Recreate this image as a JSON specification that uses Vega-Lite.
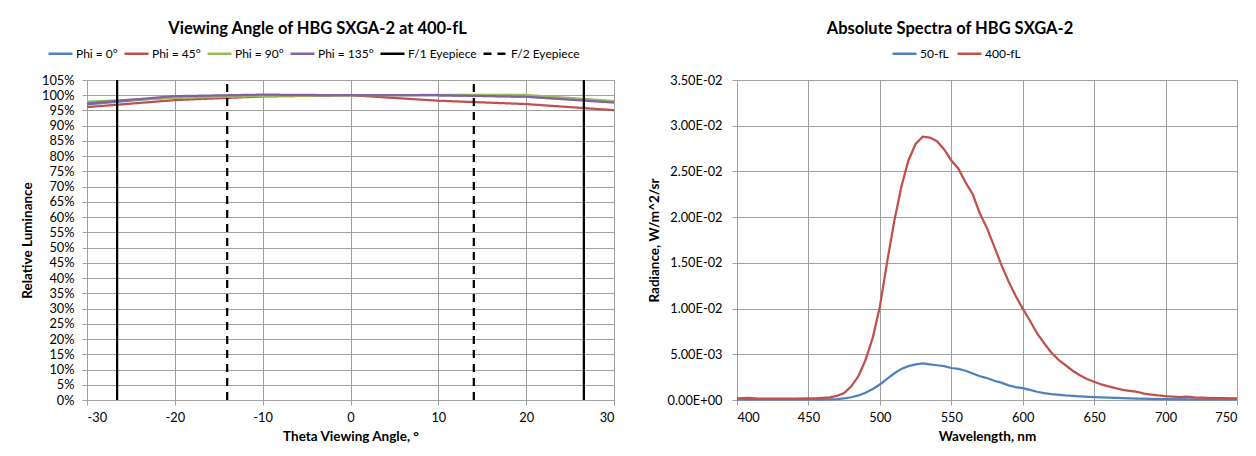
{
  "$schema": "https://vega.github.io/schema/vega-lite/v6.json",
  "background": "white",
  "padding": {"left": 20, "top": 20, "right": 5, "bottom": 5},
  "spacing": 28,
  "config": {
    "font": "Lato",
    "view": {"stroke": null},
    "axis": {
      "labelFont": "Lato", "labelFontSize": 12.8, "labelColor": "#000000",
      "titleFont": "Lato", "titleFontSize": 13.5, "titleFontWeight": "bold", "titleColor": "#000000",
      "gridColor": "#A0A0A0", "gridWidth": 1, "domainColor": "#A0A0A0", "tickColor": "#A0A0A0", "tickSize": 5
    },
    "legend": {"labelFont": "Lato", "labelFontSize": 12, "labelColor": "#000000"},
    "title": {"font": "Lato", "fontSize": 16.5, "fontWeight": "bold", "color": "#000000"}
  },
  "datasets": {
    "angle": [
      {"series": "Phi = 0°", "grp": "p0", "theta": -30, "lum": 0.970},
      {"series": "Phi = 0°", "grp": "p0", "theta": -20, "lum": 0.995},
      {"series": "Phi = 0°", "grp": "p0", "theta": -10, "lum": 1.000},
      {"series": "Phi = 0°", "grp": "p0", "theta": 0, "lum": 1.000},
      {"series": "Phi = 0°", "grp": "p0", "theta": 10, "lum": 1.000},
      {"series": "Phi = 0°", "grp": "p0", "theta": 20, "lum": 0.996},
      {"series": "Phi = 0°", "grp": "p0", "theta": 30, "lum": 0.978},
      {"series": "Phi = 45°", "grp": "p45", "theta": -30, "lum": 0.961},
      {"series": "Phi = 45°", "grp": "p45", "theta": -20, "lum": 0.984},
      {"series": "Phi = 45°", "grp": "p45", "theta": -10, "lum": 0.996},
      {"series": "Phi = 45°", "grp": "p45", "theta": 0, "lum": 1.000},
      {"series": "Phi = 45°", "grp": "p45", "theta": 10, "lum": 0.982},
      {"series": "Phi = 45°", "grp": "p45", "theta": 20, "lum": 0.971},
      {"series": "Phi = 45°", "grp": "p45", "theta": 30, "lum": 0.951},
      {"series": "Phi = 90°", "grp": "p90", "theta": -30, "lum": 0.979},
      {"series": "Phi = 90°", "grp": "p90", "theta": -20, "lum": 0.991},
      {"series": "Phi = 90°", "grp": "p90", "theta": -10, "lum": 0.998},
      {"series": "Phi = 90°", "grp": "p90", "theta": 0, "lum": 1.000},
      {"series": "Phi = 90°", "grp": "p90", "theta": 10, "lum": 1.001},
      {"series": "Phi = 90°", "grp": "p90", "theta": 20, "lum": 1.001},
      {"series": "Phi = 90°", "grp": "p90", "theta": 30, "lum": 0.981},
      {"series": "Phi = 135°", "grp": "p135", "theta": -30, "lum": 0.973},
      {"series": "Phi = 135°", "grp": "p135", "theta": -20, "lum": 0.997},
      {"series": "Phi = 135°", "grp": "p135", "theta": -10, "lum": 1.002},
      {"series": "Phi = 135°", "grp": "p135", "theta": 0, "lum": 1.000},
      {"series": "Phi = 135°", "grp": "p135", "theta": 10, "lum": 1.000},
      {"series": "Phi = 135°", "grp": "p135", "theta": 20, "lum": 0.995},
      {"series": "Phi = 135°", "grp": "p135", "theta": 30, "lum": 0.976},
      {"series": "F/1 Eyepiece", "grp": "f1a", "theta": -26.57, "lum": 0},
      {"series": "F/1 Eyepiece", "grp": "f1a", "theta": -26.57, "lum": 1.05},
      {"series": "F/1 Eyepiece", "grp": "f1b", "theta": 26.57, "lum": 0},
      {"series": "F/1 Eyepiece", "grp": "f1b", "theta": 26.57, "lum": 1.05},
      {"series": "F/2 Eyepiece", "grp": "f2a", "theta": -14.04, "lum": 0},
      {"series": "F/2 Eyepiece", "grp": "f2a", "theta": -14.04, "lum": 1.05},
      {"series": "F/2 Eyepiece", "grp": "f2b", "theta": 14.04, "lum": 0},
      {"series": "F/2 Eyepiece", "grp": "f2b", "theta": 14.04, "lum": 1.05}
    ],
    "spectra": [
      {"series": "50-fL", "nm": 400, "rad": 0.00007},
      {"series": "50-fL", "nm": 450, "rad": 0.00007},
      {"series": "50-fL", "nm": 460, "rad": 0.00008},
      {"series": "50-fL", "nm": 470, "rad": 0.0001},
      {"series": "50-fL", "nm": 475, "rad": 0.00018},
      {"series": "50-fL", "nm": 480, "rad": 0.0003},
      {"series": "50-fL", "nm": 485, "rad": 0.0005},
      {"series": "50-fL", "nm": 490, "rad": 0.0008},
      {"series": "50-fL", "nm": 495, "rad": 0.0012},
      {"series": "50-fL", "nm": 500, "rad": 0.0017},
      {"series": "50-fL", "nm": 505, "rad": 0.0023},
      {"series": "50-fL", "nm": 510, "rad": 0.0029},
      {"series": "50-fL", "nm": 515, "rad": 0.0034},
      {"series": "50-fL", "nm": 520, "rad": 0.0037},
      {"series": "50-fL", "nm": 525, "rad": 0.0039},
      {"series": "50-fL", "nm": 530, "rad": 0.0040},
      {"series": "50-fL", "nm": 535, "rad": 0.0039},
      {"series": "50-fL", "nm": 540, "rad": 0.0038},
      {"series": "50-fL", "nm": 545, "rad": 0.0037},
      {"series": "50-fL", "nm": 550, "rad": 0.0035},
      {"series": "50-fL", "nm": 555, "rad": 0.0034},
      {"series": "50-fL", "nm": 560, "rad": 0.0032},
      {"series": "50-fL", "nm": 565, "rad": 0.0029},
      {"series": "50-fL", "nm": 570, "rad": 0.0026},
      {"series": "50-fL", "nm": 575, "rad": 0.0024},
      {"series": "50-fL", "nm": 580, "rad": 0.0021},
      {"series": "50-fL", "nm": 585, "rad": 0.0019},
      {"series": "50-fL", "nm": 590, "rad": 0.0016},
      {"series": "50-fL", "nm": 595, "rad": 0.0014},
      {"series": "50-fL", "nm": 600, "rad": 0.0013},
      {"series": "50-fL", "nm": 605, "rad": 0.0011},
      {"series": "50-fL", "nm": 610, "rad": 0.0009},
      {"series": "50-fL", "nm": 615, "rad": 0.00075},
      {"series": "50-fL", "nm": 620, "rad": 0.00065},
      {"series": "50-fL", "nm": 630, "rad": 0.0005},
      {"series": "50-fL", "nm": 640, "rad": 0.0004},
      {"series": "50-fL", "nm": 650, "rad": 0.00032},
      {"series": "50-fL", "nm": 660, "rad": 0.00025},
      {"series": "50-fL", "nm": 670, "rad": 0.0002},
      {"series": "50-fL", "nm": 680, "rad": 0.00015},
      {"series": "50-fL", "nm": 690, "rad": 0.00012},
      {"series": "50-fL", "nm": 700, "rad": 0.0001},
      {"series": "50-fL", "nm": 720, "rad": 0.00008},
      {"series": "50-fL", "nm": 750, "rad": 0.00007},
      {"series": "400-fL", "nm": 400, "rad": 0.00018},
      {"series": "400-fL", "nm": 408, "rad": 0.00024},
      {"series": "400-fL", "nm": 415, "rad": 0.00016},
      {"series": "400-fL", "nm": 430, "rad": 0.00015},
      {"series": "400-fL", "nm": 440, "rad": 0.00015},
      {"series": "400-fL", "nm": 450, "rad": 0.00018},
      {"series": "400-fL", "nm": 455, "rad": 0.00017},
      {"series": "400-fL", "nm": 460, "rad": 0.00022},
      {"series": "400-fL", "nm": 465, "rad": 0.00028},
      {"series": "400-fL", "nm": 470, "rad": 0.00045},
      {"series": "400-fL", "nm": 475, "rad": 0.00075},
      {"series": "400-fL", "nm": 480, "rad": 0.0015},
      {"series": "400-fL", "nm": 485, "rad": 0.0026},
      {"series": "400-fL", "nm": 490, "rad": 0.0044},
      {"series": "400-fL", "nm": 495, "rad": 0.0068},
      {"series": "400-fL", "nm": 500, "rad": 0.0102},
      {"series": "400-fL", "nm": 505, "rad": 0.0150},
      {"series": "400-fL", "nm": 510, "rad": 0.0195},
      {"series": "400-fL", "nm": 515, "rad": 0.0233},
      {"series": "400-fL", "nm": 520, "rad": 0.0262},
      {"series": "400-fL", "nm": 525, "rad": 0.0280},
      {"series": "400-fL", "nm": 530, "rad": 0.0288},
      {"series": "400-fL", "nm": 535, "rad": 0.0287},
      {"series": "400-fL", "nm": 540, "rad": 0.0283},
      {"series": "400-fL", "nm": 545, "rad": 0.0274},
      {"series": "400-fL", "nm": 550, "rad": 0.0262},
      {"series": "400-fL", "nm": 555, "rad": 0.0253},
      {"series": "400-fL", "nm": 560, "rad": 0.0238},
      {"series": "400-fL", "nm": 565, "rad": 0.0225},
      {"series": "400-fL", "nm": 570, "rad": 0.0204},
      {"series": "400-fL", "nm": 575, "rad": 0.0188},
      {"series": "400-fL", "nm": 580, "rad": 0.0168},
      {"series": "400-fL", "nm": 585, "rad": 0.0148},
      {"series": "400-fL", "nm": 590, "rad": 0.0130},
      {"series": "400-fL", "nm": 595, "rad": 0.0114},
      {"series": "400-fL", "nm": 600, "rad": 0.0100},
      {"series": "400-fL", "nm": 605, "rad": 0.0087},
      {"series": "400-fL", "nm": 610, "rad": 0.0073},
      {"series": "400-fL", "nm": 615, "rad": 0.0062},
      {"series": "400-fL", "nm": 620, "rad": 0.0052},
      {"series": "400-fL", "nm": 625, "rad": 0.0044},
      {"series": "400-fL", "nm": 630, "rad": 0.0038},
      {"series": "400-fL", "nm": 635, "rad": 0.0032},
      {"series": "400-fL", "nm": 640, "rad": 0.0027},
      {"series": "400-fL", "nm": 645, "rad": 0.0023},
      {"series": "400-fL", "nm": 650, "rad": 0.0020},
      {"series": "400-fL", "nm": 655, "rad": 0.0017},
      {"series": "400-fL", "nm": 660, "rad": 0.0015},
      {"series": "400-fL", "nm": 665, "rad": 0.0013},
      {"series": "400-fL", "nm": 670, "rad": 0.0011},
      {"series": "400-fL", "nm": 675, "rad": 0.0010},
      {"series": "400-fL", "nm": 680, "rad": 0.0009},
      {"series": "400-fL", "nm": 685, "rad": 0.0007},
      {"series": "400-fL", "nm": 690, "rad": 0.0006},
      {"series": "400-fL", "nm": 695, "rad": 0.0005},
      {"series": "400-fL", "nm": 700, "rad": 0.00042},
      {"series": "400-fL", "nm": 710, "rad": 0.00032},
      {"series": "400-fL", "nm": 715, "rad": 0.00036},
      {"series": "400-fL", "nm": 720, "rad": 0.0003},
      {"series": "400-fL", "nm": 730, "rad": 0.00022},
      {"series": "400-fL", "nm": 740, "rad": 0.0002},
      {"series": "400-fL", "nm": 750, "rad": 0.00018}
    ]
  },
  "resolve": {
    "scale": {"color": "independent", "strokeDash": "independent", "x": "independent", "y": "independent"},
    "legend": {"color": "independent", "strokeDash": "independent"}
  },
  "hconcat": [
    {
      "width": 527,
      "height": 320,
      "title": {"text": "Viewing Angle of HBG SXGA-2 at 400-fL", "dx": -33, "offset": 3},
      "data": {"name": "angle"},
      "mark": {"type": "line", "strokeWidth": 2.25},
      "encoding": {
        "x": {
          "field": "theta", "type": "quantitative",
          "scale": {"domain": [-30, 30], "nice": false, "zero": false},
          "axis": {"values": [-30, -20, -10, 0, 10, 20, 30], "labelExpr": "'' + datum.value", "title": "Theta Viewing Angle, °", "labelPadding": 6, "titlePadding": 6, "grid": true}
        },
        "y": {
          "field": "lum", "type": "quantitative",
          "scale": {"domain": [0, 1.05], "nice": false},
          "axis": {"values": [0, 0.05, 0.1, 0.15, 0.2, 0.25, 0.3, 0.35, 0.4, 0.45, 0.5, 0.55, 0.6, 0.65, 0.7, 0.75, 0.8, 0.85, 0.9, 0.95, 1.0, 1.05], "format": ".0%", "title": "Relative Luminance", "labelPadding": 8, "titlePadding": 7, "grid": true}
        },
        "color": {
          "field": "series", "type": "nominal",
          "scale": {"domain": ["Phi = 0°", "Phi = 45°", "Phi = 90°", "Phi = 135°", "F/1 Eyepiece", "F/2 Eyepiece"], "range": ["#4F81BD", "#C0504D", "#9BBB59", "#8064A2", "#000000", "#000000"]},
          "legend": {"orient": "none", "legendX": -40, "legendY": -40, "direction": "horizontal", "columns": 6, "title": null, "symbolType": "stroke", "symbolSize": 576, "symbolStrokeWidth": 2.5, "labelOffset": 2, "columnPadding": 1}
        },
        "strokeDash": {
          "field": "series", "type": "nominal",
          "scale": {"domain": ["Phi = 0°", "Phi = 45°", "Phi = 90°", "Phi = 135°", "F/1 Eyepiece", "F/2 Eyepiece"], "range": [[1, 0], [1, 0], [1, 0], [1, 0], [1, 0], [8, 6]]},
          "legend": {"orient": "none", "legendX": -40, "legendY": -40, "direction": "horizontal", "columns": 6, "title": null, "symbolType": "stroke", "symbolSize": 576, "symbolStrokeWidth": 2.5, "labelOffset": 2, "columnPadding": 1}
        },
        "detail": {"field": "grp"}
      }
    },
    {
      "width": 500,
      "height": 320,
      "title": {"text": "Absolute Spectra of HBG SXGA-2", "dx": -37, "offset": 3},
      "data": {"name": "spectra"},
      "mark": {"type": "line", "strokeWidth": 2.25},
      "encoding": {
        "x": {
          "field": "nm", "type": "quantitative",
          "scale": {"domain": [400, 750], "nice": false, "zero": false},
          "axis": {"values": [400, 450, 500, 550, 600, 650, 700, 750], "title": "Wavelength, nm", "labelPadding": 6, "titlePadding": 6, "grid": true}
        },
        "y": {
          "field": "rad", "type": "quantitative",
          "scale": {"domain": [0, 0.035], "nice": false},
          "axis": {"values": [0, 0.005, 0.01, 0.015, 0.02, 0.025, 0.03, 0.035], "labelExpr": "replace(replace(upper(format(datum.value, '.2e')), 'E-', 'E-0'), 'E+', 'E+0')", "title": "Radiance, W/m^2/sr", "labelPadding": 10, "titlePadding": 6, "grid": true}
        },
        "color": {
          "field": "series", "type": "nominal",
          "scale": {"domain": ["50-fL", "400-fL"], "range": ["#4F81BD", "#C0504D"]},
          "legend": {"orient": "none", "legendX": 154, "legendY": -40, "direction": "horizontal", "columns": 2, "title": null, "symbolType": "stroke", "symbolSize": 576, "symbolStrokeWidth": 2.5, "labelOffset": 2, "columnPadding": 3}
        }
      }
    }
  ]
}
